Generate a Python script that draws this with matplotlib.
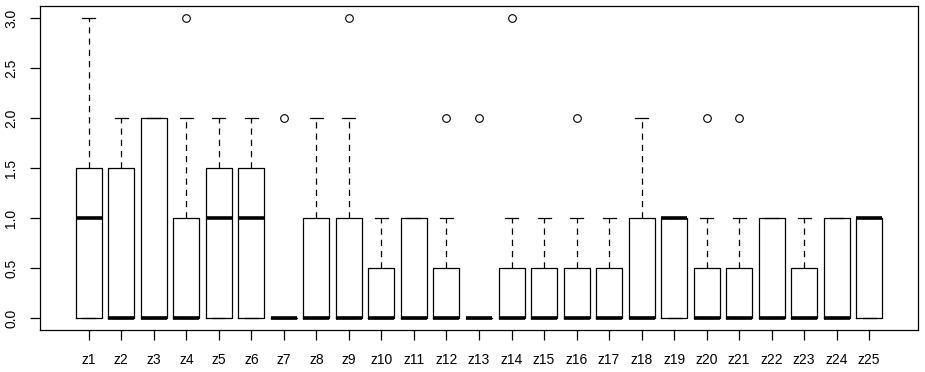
import matplotlib.pyplot as plt

labels = ["z%d" % i for i in range(1, 26)]
q1 = [0] * 25
med = [1, 0, 0, 0, 1, 1, 0, 0, 0, 0, 0, 0, 0, 0, 0, 0, 0, 0, 1, 0, 0, 0, 0, 0, 1]
q3 = [1.5, 1.5, 2, 1, 1.5, 1.5, 0, 1, 1, 0.5, 1, 0.5, 0, 0.5, 0.5, 0.5, 0.5, 1, 1, 0.5, 0.5, 1, 0.5, 1, 1]
whislo = [0] * 25
whishi = [3, 2, 2, 2, 2, 2, 0, 2, 2, 1, 1, 1, 0, 1, 1, 1, 1, 2, 1, 1, 1, 1, 1, 1, 1]
fliers = [[], [], [], [3], [], [], [2], [], [3], [], [], [2], [2], [3], [], [2], [], [], [], [2], [2], [], [], [], []]

stats = []
for i in range(25):
    stats.append(dict(label=labels[i], q1=q1[i], med=med[i], q3=q3[i],
                      whislo=whislo[i], whishi=whishi[i], fliers=fliers[i]))

plt.rcParams['font.family'] = ['Liberation Sans', 'DejaVu Sans']

fig = plt.figure(figsize=(9.25, 3.72), dpi=100)
ax = fig.add_axes([40 / 925, 42 / 372, 878 / 925, 324 / 372])

ax.bxp(stats, positions=range(1, 26), widths=0.8, capwidths=0.4,
       boxprops=dict(color="black", linewidth=0.9),
       medianprops=dict(color="black", linewidth=2.6, solid_capstyle="butt"),
       whiskerprops=dict(color="black", linewidth=0.9, linestyle=(0, (5, 4))),
       capprops=dict(color="black", linewidth=0.9),
       flierprops=dict(marker="o", markerfacecolor="none", markeredgecolor="black",
                       markersize=5.5, markeredgewidth=0.8))

ax.set_xlim(-0.5, 26.5)
ax.set_ylim(-0.12, 3.12)
ax.set_yticks([0, 0.5, 1, 1.5, 2, 2.5, 3])
ax.set_yticklabels(["0.0", "0.5", "1.0", "1.5", "2.0", "2.5", "3.0"], rotation=90, va="center")
ax.set_xticks(range(1, 26))
ax.set_xticklabels(labels)
ax.tick_params(direction="out", length=7, width=0.9, labelsize=10, color="black")
ax.tick_params(axis="x", pad=9.5)
ax.tick_params(axis="y", pad=8.5)
for s in ax.spines.values():
    s.set_linewidth(0.9)

fig.savefig("out.png", dpi=100)
